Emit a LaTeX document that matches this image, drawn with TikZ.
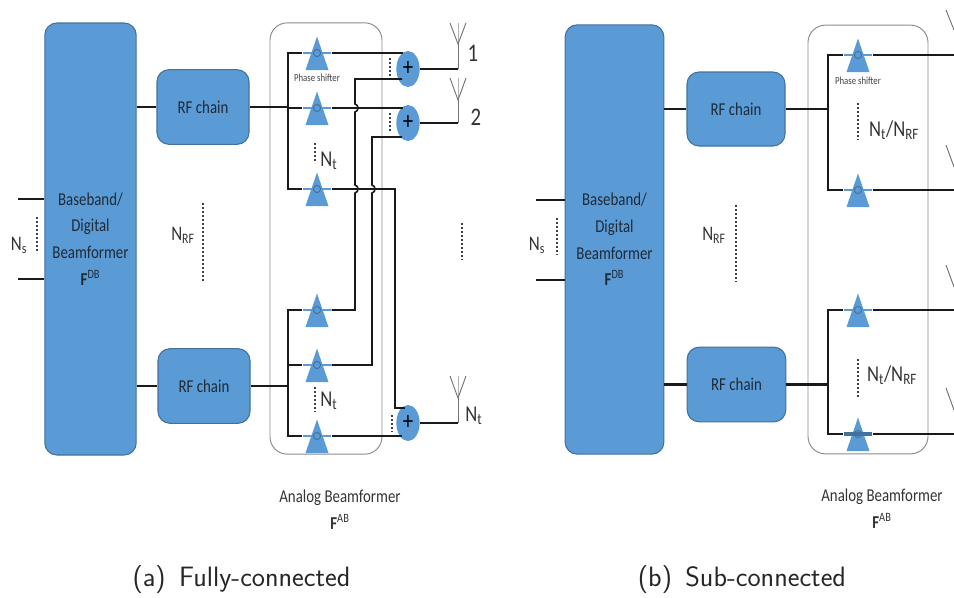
\documentclass[tikz,border=0pt]{standalone}
\usepackage{fontspec}
\setmainfont[FakeStretch=0.82]{Carlito}
\usetikzlibrary{shapes.geometric}
\definecolor{bfill}{HTML}{5B9BD5}
\definecolor{bline}{HTML}{41719C}
\definecolor{tcol}{HTML}{1F2A38}
\definecolor{wirec}{HTML}{1A1A1A}
\definecolor{framec}{HTML}{8A8A8A}
\tikzset{
  bblock/.style={draw=bline,line width=0.8pt,fill=bfill,rounded corners=9pt,inner sep=0pt,text=tcol,align=center},
  bbblock/.style={bblock,font=\fontsize{13.6}{20}\selectfont},
  rfblock/.style={bblock,font=\fontsize{13.6}{15}\selectfont},
  abframe/.style={draw=framec,line width=0.7pt,rounded corners=13pt,inner sep=0pt},
  wire/.style={draw=wirec,line width=1.2pt},
  wirebold/.style={draw=wirec,line width=1.6pt},
  dots/.style={draw=black!75,line width=1.1pt,dash pattern=on 1.6pt off 1.4pt},
  lbl/.style={text=black!80,inner sep=0pt,font=\fontsize{15.5}{17}\selectfont},
  lblbig/.style={text=black!80,inner sep=0pt,font=\fontsize{17}{20}\selectfont},
  lblnum/.style={text=black!80,inner sep=0pt,font=\fontsize{19}{20}\selectfont},
  pslbl/.style={text=black!75,inner sep=0pt,font=\fontsize{8}{9}\selectfont},
  ablbl/.style={text=black!80,inner sep=0pt,align=center,font=\fontsize{13.6}{20}\selectfont},
  caplbl/.style={text=black!85,inner sep=0pt,font=\fontsize{21}{24}\sffamily},
  adder/.style={ellipse,fill=bfill,inner sep=0pt,minimum width=17.5pt,minimum height=27pt,text=black,font=\fontsize{19}{19}\selectfont},
  psband/.style={rectangle,fill=bfill,inner sep=0pt,minimum width=21.5pt,minimum height=1.6pt},
  psbandthick/.style={psband,fill=bline,minimum height=3pt},
  antline/.style={draw=black!55,line width=0.7pt},
  antmid/.style={draw=black!30,line width=0.7pt},
}
% \pshift{name}{x}{y}{band style}: triangle with apex above and base below the signal line
\newcommand{\pshift}[4]{%
  \fill[bfill] (#2,#3-16.5) -- (#2+11.5,#3+17) -- (#2-11.5,#3+17) -- cycle;
  \node[#4] (#1) at (#2,#3) {};
  \draw[bline,line width=0.7pt] (#2,#3) circle (3.6);
}
\newcommand{\antenna}[3]{% base x, apex y, tip y
  \draw[antmid] (#1,#3) -- (#1,#2);
  \draw[antline] (#1-8,#3) -- (#1,#2) -- (#1+8,#3);
}
\begin{document}
\begin{tikzpicture}[x=0.75pt,y=-0.75pt]
\useasboundingbox (0,0) rectangle (954,597);
% ------- (a) fully connected -------
\node[abframe,minimum width=84pt,minimum height=323.5pt] (abA) at (326,238.5) {};
\node[bbblock,minimum width=68.5pt,minimum height=324pt] (bbA) at (90.5,239) {Baseband/\\Digital\\Beamformer\\\textbf{F}\textsuperscript{DB}};
\node[rfblock,minimum width=69pt,minimum height=56pt] (rfA1) at (203,107) {RF chain};
\node[rfblock,minimum width=69pt,minimum height=56pt] (rfA2) at (204,386) {RF chain};
\coordinate (nsA1) at (18,199);
\coordinate (nsA2) at (18,279);
\draw[wire] (nsA1) -- (nsA1 -| bbA.west);
\draw[wire] (nsA2) -- (nsA2 -| bbA.west);
\draw[dots] (37,217) -- (37,253);
\node[lbl] (nsAl) at (19,245) {N\textsubscript{s}};
\node[lbl] (nrfAl) at (183,235) {N\textsubscript{RF}};
\draw[dots] (203,203) -- (203,282);
\draw[wire] (rfA1.west -| bbA.east) -- (rfA1.west);
\draw[wire] (rfA2.west -| bbA.east) -- (rfA2.west);
\pshift{psA1}{317}{53}{psband}
\pshift{psA2}{317}{108}{psband}
\pshift{psA3}{317}{189}{psband}
\pshift{psA4}{317}{310}{psband}
\pshift{psA5}{317}{365}{psband}
\pshift{psA6}{317}{436}{psband}
\node[pslbl] (psAl) at (317,78) {Phase shifter};
\node[adder] (addA1) at (408,69) {+};
\node[adder] (addA2) at (408,123) {+};
\node[adder] (addA3) at (408,423) {+};
\coordinate (busA) at (288,0);
\draw[wire] (rfA1.east) -- (rfA1.east -| busA);
\draw[wire] (rfA2.east) -- (rfA2.east -| busA);
\draw[wire] (psA1.west) -- (psA1.west -| busA) -- (psA3.west -| busA) -- (psA3.west);
\draw[wire] (psA4.west) -- (psA4.west -| busA) -- (psA6.west -| busA) -- (psA6.west);
\draw[wire] (psA2.west) -- (psA2.west -| busA);
\draw[wire] (psA5.west) -- (psA5.west -| busA);
\coordinate (a1i1) at (403,53);
\coordinate (a1i2) at (402,79);
\coordinate (a2i1) at (403,108);
\coordinate (a2i2) at (402,137);
\coordinate (a3i1) at (405,408);
\coordinate (a3i2) at (402,436);
\draw[wire] (psA1.east) -- (a1i1);
\draw[wire] (psA2.east) -- (a2i1);
\draw[wire] (psA3.east) -- (395,189) -- (395,382) -- (395,408) -- (a3i1);
\draw[wire] (psA6.east) -- (a3i2);
\draw[wire] (psA4.east) -- (355,310) -- (355,193)
  .. controls (359,192) and (359,186) .. (355,185) -- (355,112)
  .. controls (359,111) and (359,105) .. (355,104) -- (355,79) -- (a1i2);
\draw[wire] (psA5.east) -- (372,365) -- (372,193)
  .. controls (376,192) and (376,186) .. (372,185) -- (372,137) -- (a2i2);
\draw[dots] (390,58) -- (390,76);
\draw[dots] (390,113) -- (390,131);
\draw[dots] (392,415) -- (392,432);
\draw[dots] (315,143) -- (315,163);
\draw[dots] (315,387) -- (315,412);
\node[lblbig] (ntA1) at (329,161) {N\textsubscript{t}};
\node[lblbig] (ntA2) at (329,401) {N\textsubscript{t}};
\coordinate (antA1) at (458,44);
\coordinate (antA2) at (458,100);
\coordinate (antA3) at (458,398);
\draw[wirebold] (addA1.east) -- (addA1.east -| antA1);
\draw[wirebold] (addA2.east) -- (addA2.east -| antA2);
\draw[wirebold] (addA3.east) -- (addA3.east -| antA3);
\draw[antline] (addA1.east -| antA1) -- (antA1);
\draw[antline] (addA2.east -| antA2) -- (antA2);
\draw[antline] (addA3.east -| antA3) -- (antA3);
\antenna{458}{44}{23}
\antenna{458}{100}{78}
\antenna{458}{398}{376}
\node[lblnum] (one) at (473,53) {1};
\node[lblnum] (two) at (476,117) {2};
\node[lblbig] (ntA3) at (474,416) {N\textsubscript{t}};
\draw[dots] (462,223) -- (462,260);
\node[ablbl] (abAl) at (340,510) {Analog Beamformer\\\textbf{F}\textsuperscript{AB}};
\node[caplbl] (capA) at (241.5,580) {(a)\hspace{10pt}Fully-connected};
% ------- (b) sub connected -------
\node[abframe,minimum width=90pt,minimum height=321.5pt] (abB) at (868,239.5) {};
\node[bbblock,minimum width=74pt,minimum height=322pt] (bbB) at (614.5,239.5) {Baseband/\\Digital\\Beamformer\\\textbf{F}\textsuperscript{DB}};
\node[rfblock,minimum width=73.5pt,minimum height=55.5pt] (rfB1) at (736,109) {RF chain};
\node[rfblock,minimum width=74pt,minimum height=56pt] (rfB2) at (736.5,384.5) {RF chain};
\coordinate (nsB1) at (536,200);
\coordinate (nsB2) at (536,280);
\draw[wire] (nsB1) -- (nsB1 -| bbB.west);
\draw[wire] (nsB2) -- (nsB2 -| bbB.west);
\draw[dots] (557,218) -- (557,255);
\node[lbl] (nsBl) at (537,245) {N\textsubscript{s}};
\node[lbl] (nrfBl) at (714,235) {N\textsubscript{RF}};
\draw[dots] (736,205) -- (736,282);
\draw[wire] (rfB1.west -| bbB.east) -- (rfB1.west);
\draw[wirebold] (rfB2.west -| bbB.east) -- (rfB2.west);
\pshift{psB1}{858}{55}{psband}
\pshift{psB2}{858}{190}{psband}
\pshift{psB3}{858}{310}{psband}
\pshift{psB4}{858}{434}{psbandthick}
\node[pslbl] (psBl) at (858,81) {Phase shifter};
\coordinate (busB) at (828,0);
\coordinate (edge) at (954,0);
\draw[wire] (rfB1.east) -- (rfB1.east -| busB);
\draw[wirebold] (rfB2.east) -- (rfB2.east -| busB);
\draw[wire] (psB1.west) -- (psB1.west -| busB) -- (psB2.west -| busB) -- (psB2.west);
\draw[wire] (psB3.west) -- (psB3.west -| busB) -- (psB4.west -| busB) -- (psB4.west);
\draw[wire] (psB1.east) -- (psB1.east -| edge);
\draw[wire] (psB2.east) -- (psB2.east -| edge);
\draw[wire] (psB3.east) -- (psB3.east -| edge);
\draw[wire] (psB4.east) -- (psB4.east -| edge);
\draw[dots] (858,103) -- (858,140);
\draw[dots] (858,359) -- (858,397);
\node[lblbig] (ntB1) at (894,130) {N\textsubscript{t}/N\textsubscript{RF}};
\node[lblbig] (ntB2) at (892,375) {N\textsubscript{t}/N\textsubscript{RF}};
\draw[antline] (946,10) -- (954,30);
\draw[antline] (946,145) -- (954,167);
\draw[antline] (946,265) -- (954,287);
\draw[antline] (946,388) -- (954,410);
\node[ablbl] (abBl) at (882,509) {Analog Beamformer\\\textbf{F}\textsuperscript{AB}};
\node[caplbl] (capB) at (742,580) {(b)\hspace{10pt}Sub-connected};
\end{tikzpicture}
\end{document}
